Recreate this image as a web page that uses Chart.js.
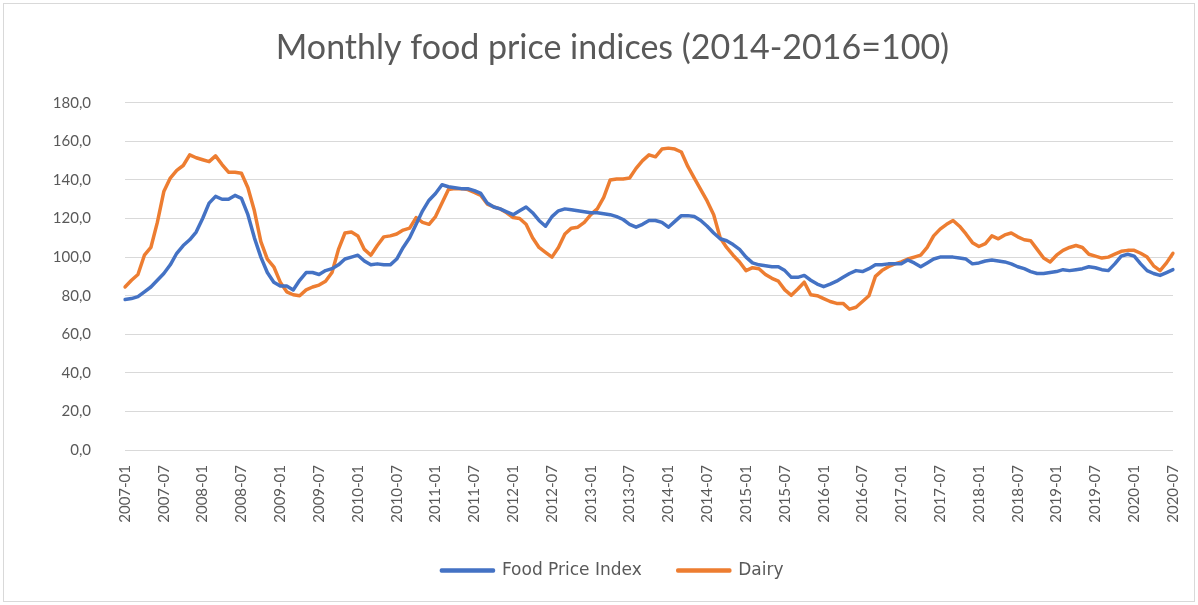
<!DOCTYPE html>
<html>
<head>
<meta charset="utf-8">
<script src="https://cdn.jsdelivr.net/npm/chart.js@4"></script>
<style>
  html, body { margin: 0; background: #fff; }
  #wrap { position: relative; width: 1198px; height: 605px; }
</style>
</head>
<body>
<div id="wrap"><canvas id="chartFood"></canvas></div>
<script>
// months 2007-01 .. 2020-07
const firstYear = 2007;
const lastYear = 2020;
const lastMonth = 7;
const months = [];
for (let y = firstYear; y <= lastYear; y++) {
    for (let m = 1; m <= 12; m++) {
        if (y === lastYear && m > lastMonth) break;
        months.push(y + '-' + String(m).padStart(2, '0'));
    }
}
const tickEvery = 6; // one label every 6 months

const foodPriceIndex = [
    78, 78.5, 79.5, 82, 84.5, 88, 91.5, 96, 102, 106, 109, 113,            // 2007
    120, 128, 131.5, 130, 130, 132, 130.5, 122, 110, 100, 92, 87,         // 2008
    85, 85, 83, 88, 92, 92, 91, 93, 94, 96, 99, 100,                      // 2009
    101, 98, 96, 96.5, 96, 96, 99, 105, 110, 117, 124, 129.5,             // 2010
    133, 137.5, 136.5, 136, 135.5, 135.5, 134.5, 133, 128, 126, 125, 123.5, // 2011
    122, 124, 126, 123, 119, 116, 121, 124, 125, 124.5, 124, 123.5,       // 2012
    123, 123, 122.5, 122, 121, 119.5, 117, 115.5, 117, 119, 119, 118,     // 2013
    115.5, 118.5, 121.5, 121.5, 121, 119, 116, 112.5, 109.5, 108.5, 106.5, 104, // 2014
    100, 97, 96, 95.5, 95, 95, 93, 89.5, 89.5, 90.5, 88, 86,              // 2015
    84.7, 86, 87.5, 89.5, 91.5, 93, 92.5, 94, 96, 96, 96.5, 96.5,         // 2016
    96.5, 98.5, 97, 95, 97, 99, 100, 100, 100, 99.5, 99, 96.5,            // 2017
    97, 98, 98.5, 98, 97.5, 96.5, 95, 94, 92.5, 91.5, 91.5, 92,           // 2018
    92.5, 93.5, 93, 93.5, 94, 95, 94.5, 93.5, 93, 96.5, 100.5, 101.5,     // 2019
    100.5, 96.5, 93, 91.5, 90.5, 92, 93.5                                 // 2020
];

const dairy = [
    84.5, 88, 91, 101, 105, 118, 134, 141, 145, 147.5, 153, 151.5,        // 2007
    150.5, 149.5, 152.5, 148, 144, 144, 143.5, 136, 124, 108, 99, 95,     // 2008
    87, 82, 80.5, 80, 83, 84.5, 85.5, 87.5, 92, 104, 112.5, 113,          // 2009
    111, 104, 101, 106, 110.5, 111, 112, 114, 115, 120.5, 118, 117,       // 2010
    121, 128, 135, 135.5, 135.5, 135, 133.5, 132, 127.5, 126, 125, 123,   // 2011
    120.5, 120, 117, 110, 105, 102.5, 100, 105, 112, 115, 115.5, 118,     // 2012
    122, 125, 131, 140, 140.5, 140.5, 141, 146, 150, 153, 152, 156,       // 2013
    156.5, 156, 154.5, 147, 141, 135, 129, 122, 110, 105, 101, 97.5,      // 2014
    93, 94.5, 94, 91, 89, 87.5, 83, 80.2, 83.5, 87, 80.5, 80,             // 2015
    78.5, 77, 76, 76, 73, 74, 77, 80, 90, 93, 95, 96.5,                   // 2016
    97.5, 99, 100, 101, 105, 111, 114.5, 117, 119, 116, 112, 107.5,       // 2017
    105.5, 107, 111, 109.5, 111.5, 112.5, 110.5, 109, 108.5, 104, 99.5, 97.5, // 2018
    101, 103.5, 105, 106, 105, 101.5, 100.5, 99.5, 100, 101.5, 103, 103.5, // 2019
    103.5, 102, 100, 95.5, 93, 97, 102                                     // 2020
];

const yMin = 0;
const yMax = 180;
const yStep = 20;

const textColor = '#595959';
const gridColor = '#d9d9d9';
const fontFamily = 'Lato, "Liberation Sans", sans-serif';

// thin grey frame like the Excel chart area
const framePlugin = {
    id: 'frame',
    beforeDraw(chart) {
        const c = chart.ctx;
        c.save();
        c.fillStyle = '#ffffff';
        c.fillRect(0, 0, chart.width, chart.height);
        c.strokeStyle = '#d9d9d9';
        c.lineWidth = 1;
        c.strokeRect(3.5, 3.5, chart.width - 7, chart.height - 7);
        c.restore();
    }
};

const ctx = document.getElementById('chartFood').getContext('2d');
const chart = new Chart(ctx, {
    type: 'line',
    data: {
        labels: months,
        datasets: [{
            label: 'Food Price Index',
            data: foodPriceIndex,
            borderColor: '#4472c4',
            backgroundColor: '#4472c4',
            borderWidth: 3.5,
            pointRadius: 0,
            tension: 0,
            borderJoinStyle: 'round',
            borderCapStyle: 'round'
        }, {
            label: 'Dairy',
            data: dairy,
            borderColor: '#ed7d31',
            backgroundColor: '#ed7d31',
            borderWidth: 3.5,
            pointRadius: 0,
            tension: 0,
            borderJoinStyle: 'round',
            borderCapStyle: 'round'
        }]
    },
    options: {
        responsive: true,
        maintainAspectRatio: false,
        animation: false,
        layout: {
            padding: { left: 46, right: 19, top: 0, bottom: 16 }
        },
        plugins: {
            title: {
                display: true,
                text: 'Monthly food price indices (2014-2016=100)',
                color: textColor,
                font: { family: fontFamily, size: 34, weight: 'normal' },
                padding: { top: 28, bottom: 34 }
            },
            legend: {
                position: 'bottom',
                labels: {
                    color: textColor,
                    font: { family: '"DejaVu Sans", sans-serif', size: 17 },
                    boxWidth: 52,
                    boxHeight: 1,
                    padding: 36
                }
            },
            tooltip: { enabled: false }
        },
        scales: {
            x: {
                offset: false,
                grid: { display: false },
                border: { display: false },
                ticks: {
                    autoSkip: false,
                    maxRotation: 90,
                    minRotation: 90,
                    padding: 7,
                    color: textColor,
                    font: { family: fontFamily, size: 15 },
                    callback: function (value, index) {
                        return index % tickEvery === 0 ? months[index] : '';
                    }
                },
                afterFit: function (scale) {
                    const lg = scale.chart.legend;
                    const lh = lg && lg.height ? lg.height : 63;
                    scale.height = 605 - 16 - lh - 450;
                }
            },
            y: {
                min: yMin,
                max: yMax,
                grid: { color: gridColor, lineWidth: 1, drawTicks: false },
                border: { display: false },
                ticks: {
                    stepSize: yStep,
                    padding: 34,
                    color: textColor,
                    font: { family: fontFamily, size: 15 },
                    callback: function (v) {
                        return v.toFixed(1).replace('.', ',');
                    }
                },
                afterFit: function (scale) {
                    scale.width = 79;
                }
            }
        }
    },
    plugins: [framePlugin]
});
</script>
</body>
</html>
